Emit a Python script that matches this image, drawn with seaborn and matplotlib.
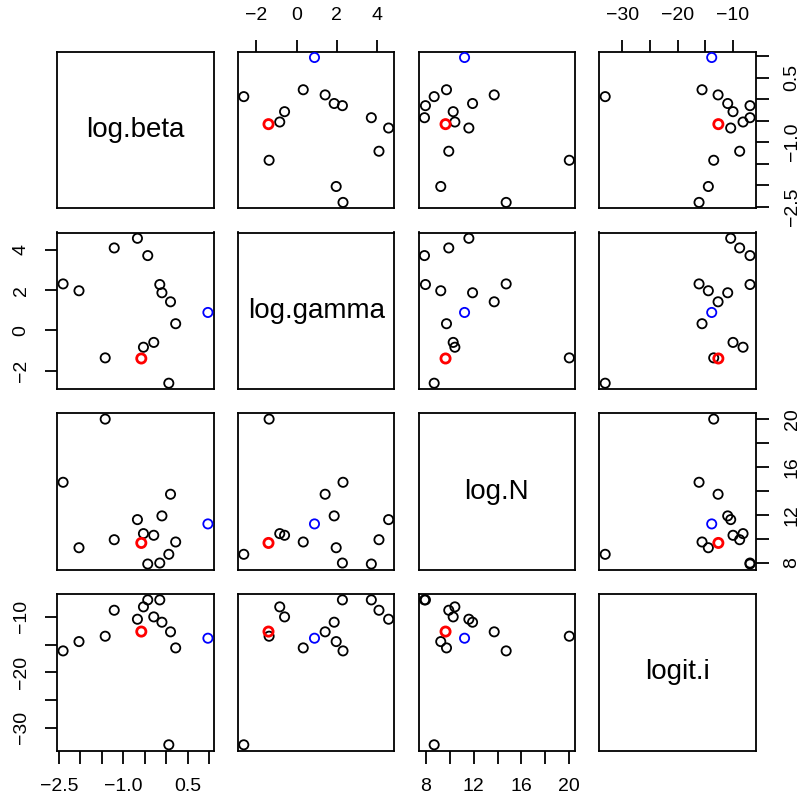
import numpy as np
import pandas as pd
import matplotlib
matplotlib.use('Agg')
import matplotlib.pyplot as plt
import seaborn as sns

# values
log_beta = [-2.40, -2.03, -1.42, -1.21, -0.67, -0.58, -0.53, -0.43, -0.29, -0.15,
            -0.10, 0.10, 0.22, 0.06, 0.97]
log_gamma = [2.31, 1.97, -1.37, 4.10, 4.58, -1.40, -0.84, 3.72, -0.60, 2.28,
             1.87, 1.42, 0.33, -2.63, 0.89]
log_N = [14.72, 9.25, 20.0, 9.92, 11.60, 9.65, 10.43, 7.89, 10.29, 7.97,
         11.91, 13.72, 9.73, 8.70, 11.24]
logit_i = [-16.14, -14.46, -13.49, -8.80, -10.42, -12.65, -8.19, -6.93, -10.0, -6.93,
           -10.96, -12.70, -15.60, -33.10, -13.85]
point_group = ['other'] * 5 + ['highlight_a'] + ['other'] * 8 + ['highlight_b']

var_names = ['log.beta', 'log.gamma', 'log.N', 'logit.i']

# tick values and the labels R kept (others dropped for overlap)
tick_values = {
    'log.beta': [-2.5, -2.0, -1.5, -1.0, -0.5, 0.0, 0.5, 1.0],
    'log.gamma': [-2, 0, 2, 4],
    'log.N': [8, 10, 12, 14, 16, 18, 20],
    'logit.i': [-30, -25, -20, -15, -10],
}
tick_labels = {
    'log.beta': ['-2.5', '', '', '-1.0', '', '', '0.5', ''],
    'log.gamma': ['-2', '0', '2', '4'],
    'log.N': ['8', '', '12', '', '16', '', '20'],
    'logit.i': ['-30', '', '-20', '', '-10'],
}

df = pd.DataFrame({
    'log.beta': log_beta,
    'log.gamma': log_gamma,
    'log.N': log_N,
    'logit.i': logit_i,
    'group': point_group,
})

group_style = {
    'other': ('black', 1.3),
    'highlight_a': ('red', 2.0),
    'highlight_b': ('blue', 1.3),
}

sns.set_theme(style='white')
plt.rcParams['font.family'] = ['Liberation Sans', 'DejaVu Sans']

W, H = 804, 799
fig = plt.figure(figsize=(W / 100, H / 100), dpi=100)

# panel geometry in pixels
left0, top0 = 57.3, 51.7
step_x, step_y = 180.7, 180.8
pw, ph = 156.4, 156.5

# R-style 4% range extension
limits = {}
for v in var_names:
    lo, hi = df[v].min(), df[v].max()
    pad = 0.04 * (hi - lo)
    limits[v] = (lo - pad, hi + pad)


def fmt(labels):
    return [s.replace('-', '\u2212') for s in labels]


tick_kw = dict(direction='out', length=9, width=1.3, pad=11, labelsize=14,
               color='black', labelcolor='black')

n = len(var_names)
for i, yv in enumerate(var_names):
    for j, xv in enumerate(var_names):
        x0 = left0 + j * step_x
        y0 = top0 + i * step_y
        ax = fig.add_axes([x0 / W, 1 - (y0 + ph) / H, pw / W, ph / H])
        ax.set_facecolor('white')

        if i == j:
            ax.text(0.5, 0.5, xv, transform=ax.transAxes, ha='center', va='center',
                    fontsize=20, color='black')
        else:
            for grp, (col, lw) in group_style.items():
                sub = df[df['group'] == grp]
                sns.scatterplot(data=sub, x=xv, y=yv, ax=ax, marker='o', s=44,
                                color=col, facecolors='none', edgecolor=col,
                                linewidth=lw, legend=False, zorder=3)

        ax.set_xlim(limits[xv])
        ax.set_ylim(limits[yv])
        ax.set_xlabel('')
        ax.set_ylabel('')

        for sp in ax.spines.values():
            sp.set_visible(True)
            sp.set_color('black')
            sp.set_linewidth(1.3)

        ax.tick_params(axis='both', which='both', bottom=False, top=False, left=False,
                       right=False, labelbottom=False, labeltop=False, labelleft=False,
                       labelright=False)

        # alternating axes like R pairs()
        if i == 0 and j % 2 == 1:
            ax.set_xticks(tick_values[xv])
            ax.set_xticklabels(fmt(tick_labels[xv]))
            ax.tick_params(axis='x', top=True, labeltop=True, **tick_kw)
        if i == n - 1 and j % 2 == 0:
            ax.set_xticks(tick_values[xv])
            ax.set_xticklabels(fmt(tick_labels[xv]))
            ax.tick_params(axis='x', bottom=True, labelbottom=True, **tick_kw)
        if j == 0 and i % 2 == 1:
            ax.set_yticks(tick_values[yv])
            ax.set_yticklabels(fmt(tick_labels[yv]), rotation=90, va='center')
            ax.tick_params(axis='y', left=True, labelleft=True, **tick_kw)
        if j == n - 1 and i % 2 == 0:
            ax.set_yticks(tick_values[yv])
            ax.set_yticklabels(fmt(tick_labels[yv]), rotation=90, va='center')
            ax.tick_params(axis='y', right=True, labelright=True, **tick_kw)

fig.savefig('out.png', dpi=100, facecolor='white')
